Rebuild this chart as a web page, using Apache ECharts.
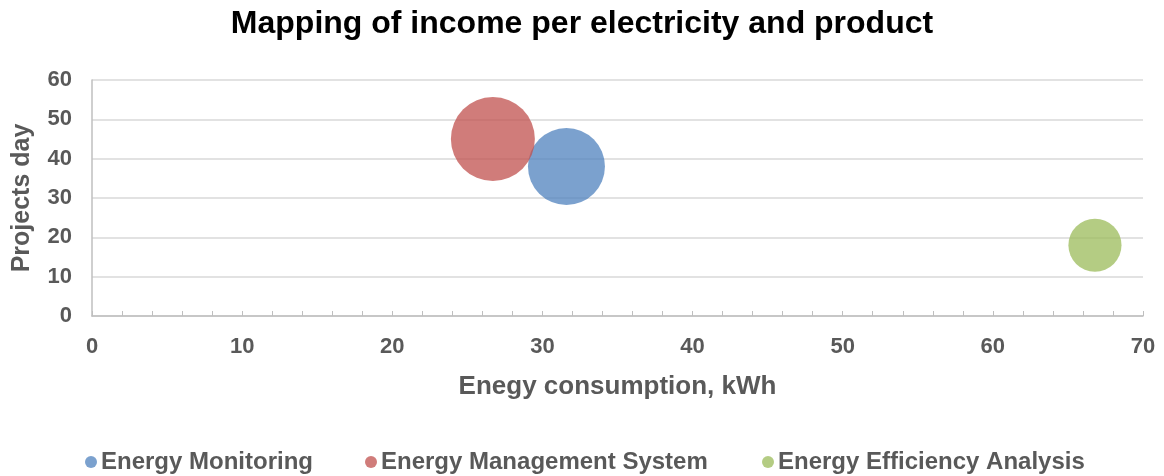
<!DOCTYPE html>
<html>
<head>
<meta charset="utf-8">
<script src="https://cdn.jsdelivr.net/npm/echarts@6/dist/echarts.min.js"></script>
<style>
  html, body { margin: 0; padding: 0; background: #ffffff; }
  #chart { width: 1164px; height: 476px; }
</style>
</head>
<body>
<div id="chart"></div>
<script>
// Bubble data: [energy consumption kWh, projects day, bubble size]
const seriesNames = ['Energy Monitoring', 'Energy Management System', 'Energy Efficiency Analysis'];
const energyKWh = [31.6, 26.7, 66.8];
const projectDays = [38, 45, 18];
const bubbleSizes = [42, 50, 20];
const seriesColors = ['#4F81BD', '#C0504D', '#9BBB59'];

const FONT = '"Liberation Sans", Arial, sans-serif';
const GREY = '#595959';
const maxSize = Math.max(...bubbleSizes);
// bubble area proportional to size
const diameter = s => 84 * Math.sqrt(s / maxSize);

const chart = echarts.init(document.getElementById('chart'), null, { renderer: 'canvas' });

const legendLefts = [80, 360, 757];

chart.setOption({
  animation: false,
  backgroundColor: '#ffffff',
  textStyle: { fontFamily: FONT },
  title: {
    text: 'Mapping of income per electricity and product',
    left: 'center',
    top: 3,
    textStyle: { fontFamily: FONT, fontSize: 32, fontWeight: 'bold', color: '#000000' }
  },
  legend: seriesNames.map((name, i) => ({
    data: [name],
    left: legendLefts[i],
    top: 445,
    icon: 'circle',
    itemWidth: 12,
    itemHeight: 12,
    itemGap: 4,
    textStyle: { fontFamily: FONT, fontSize: 24, fontWeight: 'bold', color: GREY, padding: [0, 0, 0, -1] }
  })),
  grid: { left: 92, right: 21, top: 80, bottom: 160, containLabel: false },
  xAxis: {
    type: 'value',
    min: 0, max: 70, interval: 10,
    name: 'Enegy consumption, kWh',
    nameLocation: 'middle',
    nameGap: 58,
    nameTextStyle: { fontFamily: FONT, fontSize: 26, fontWeight: 'bold', color: GREY },
    axisLine: { show: true, lineStyle: { color: '#BFBFBF', width: 1.5 } },
    axisTick: { show: true, inside: true, length: 5, lineStyle: { color: '#BFBFBF' } },
    minorTick: { show: true, splitNumber: 5, length: 5, lineStyle: { color: '#BFBFBF' } },
    axisLabel: { fontFamily: FONT, fontSize: 22, fontWeight: 'bold', color: GREY, margin: 20 },
    splitLine: { show: false }
  },
  yAxis: {
    type: 'value',
    min: 0, max: 60, interval: 10,
    name: 'Projects day',
    nameLocation: 'middle',
    nameGap: 57,
    nameTextStyle: { fontFamily: FONT, fontSize: 25, fontWeight: 'bold', color: GREY },
    axisLine: { show: true, lineStyle: { color: '#BFBFBF', width: 1.5 } },
    axisTick: { show: false },
    axisLabel: { fontFamily: FONT, fontSize: 22, fontWeight: 'bold', color: GREY, margin: 20 },
    splitLine: { show: true, lineStyle: { color: '#D9D9D9', width: 1.5 } }
  },
  series: seriesNames.map((name, i) => ({
    name: name,
    type: 'scatter',
    data: [[energyKWh[i], projectDays[i], bubbleSizes[i]]],
    symbolSize: v => diameter(v[2]),
    itemStyle: { color: seriesColors[i], opacity: 0.75 }
  }))
});
</script>
</body>
</html>
